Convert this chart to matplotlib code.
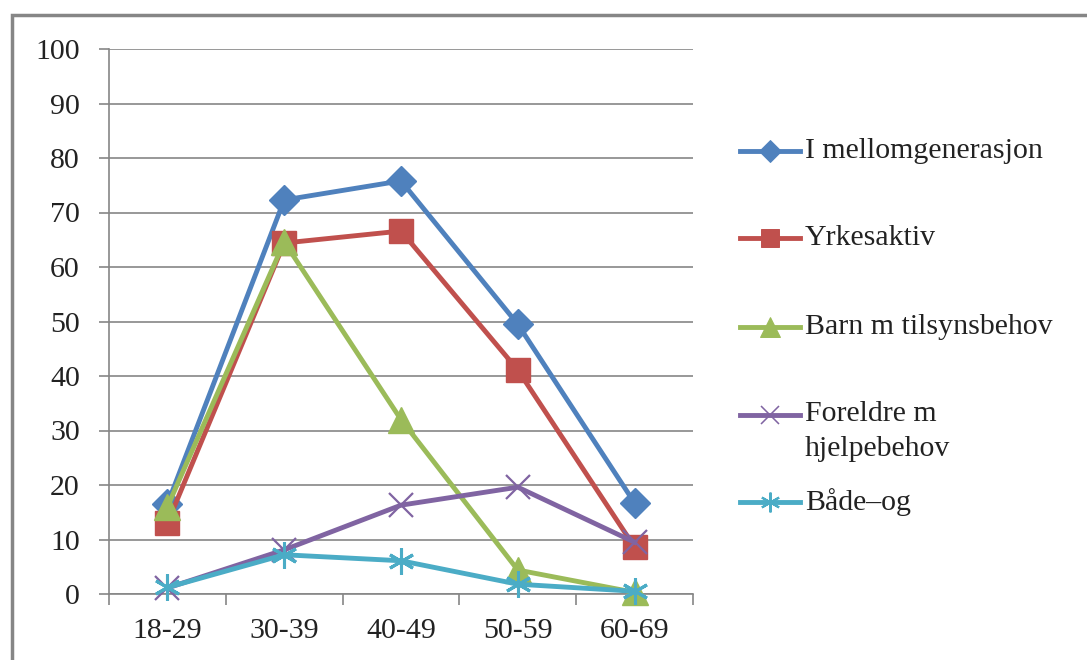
import matplotlib.pyplot as plt
from matplotlib.lines import Line2D
from matplotlib.patches import Rectangle

# age groups and shares (%)
age_groups = ["18-29", "30-39", "40-49", "50-59", "60-69"]
mellomgenerasjon = [16.5, 72.3, 75.8, 49.5, 16.7]
yrkesaktiv = [13.0, 64.4, 66.6, 41.1, 8.6]
barn_tilsyn = [16.0, 64.6, 32.0, 4.4, 0.3]
foreldre_hjelp = [1.1, 8.1, 16.3, 19.6, 9.5]
baade_og = [1.2, 7.2, 6.1, 1.8, 0.5]

series_labels = ["I mellomgenerasjon", "Yrkesaktiv", "Barn m tilsynsbehov",
                 "Foreldre m\nhjelpebehov", "Både\u2013og"]

plt.rcParams['font.family'] = ["Liberation Serif", "DejaVu Serif"]
FS = 21.5
TXT = "#222222"

fig = plt.figure(figsize=(10.87, 6.6), dpi=100)
ax = fig.add_axes([109 / 1087, 1 - 594 / 660, (693 - 109) / 1087, (594 - 49) / 660])

grey = "#868686"
styles = [
    dict(color="#4F81BD", marker="D", ms=15, mew=1),
    dict(color="#C0504D", marker="s", ms=17, mew=1),
    dict(color="#9BBB59", marker="^", ms=19, mew=1),
    dict(color="#8064A2", marker="x", ms=17, mew=1.6),
    dict(color="#4BACC6", marker=(6, 2, 0), ms=19, mew=2.2),
]
data = [mellomgenerasjon, yrkesaktiv, barn_tilsyn, foreldre_hjelp, baade_og]
x = list(range(len(age_groups)))

for vals, st in zip(data, styles):
    ax.plot(x, vals, lw=3.5, color=st["color"], marker=st["marker"],
            markersize=st["ms"], markeredgewidth=st["mew"],
            markeredgecolor=st["color"], clip_on=False, zorder=3)

ax.set_xlim(-0.5, len(age_groups) - 0.5)
ax.set_ylim(0, 100)
ax.set_yticks(range(0, 101, 10))
ax.set_xticks(x)
ax.set_xticklabels(age_groups)
ax.set_xticks([i - 0.5 for i in range(len(age_groups) + 1)], minor=True)
ax.tick_params(axis='x', which='major', length=0, pad=17, labelsize=FS, colors=TXT)
ax.tick_params(axis='x', which='minor', length=8, width=1.2, color=grey, direction='out')
ax.tick_params(axis='y', length=7, width=1.2, color=grey, pad=14, labelsize=FS,
               labelcolor=TXT)
ax.grid(axis='y', color=grey, lw=1.2)
ax.set_axisbelow(True)
for s in ["top", "right"]:
    ax.spines[s].set_visible(False)
for s in ["left", "bottom"]:
    ax.spines[s].set_color(grey)
    ax.spines[s].set_linewidth(1.2)

# legend drawn by hand so the two-line entry keeps its key at the first line
legend_y = [151, 238, 327, 415, 502]
for lab, st, yp in zip(series_labels, styles, legend_y):
    yf = 1 - yp / 660
    fig.add_artist(Line2D([740 / 1087, 800 / 1087], [yf, yf], lw=3.5, color=st["color"],
                          transform=fig.transFigure))
    fig.add_artist(Line2D([770 / 1087], [yf], marker=st["marker"], color=st["color"],
                          markersize=st["ms"] * 0.75, markeredgewidth=st["mew"] * 0.7,
                          transform=fig.transFigure))
    if "\n" in lab:
        fig.text(805 / 1087, yf + 0.021, lab, fontsize=FS, va='top', ha='left',
                 color=TXT, linespacing=1.45)
    else:
        fig.text(805 / 1087, yf, lab, fontsize=FS, va='center', ha='left', color=TXT)

# chart area frame
fig.add_artist(Rectangle((12 / 1087, -0.1), 1.2, 1 - 15 / 660 + 0.1, transform=fig.transFigure,
                         fill=False, edgecolor=grey, lw=2.5))

fig.savefig("out.png", dpi=100)
